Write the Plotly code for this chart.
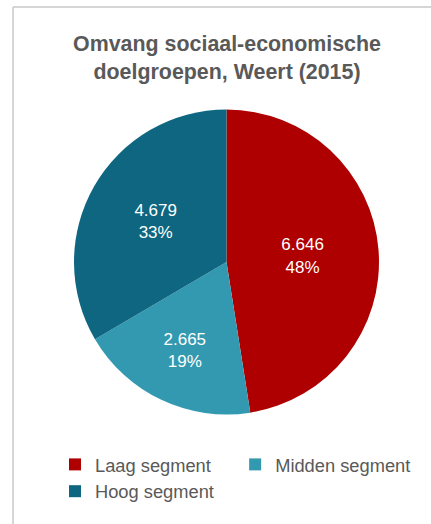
import plotly.graph_objects as go

# Omvang sociaal-economische doelgroepen, Weert (2015)
segments = ["Laag segment", "Midden segment", "Hoog segment"]
counts = [6646, 2665, 4679]
colors = ["#AE0000", "#3399B0", "#0E6680"]

W, H = 431, 524
grey = "#595959"

fig = go.Figure(
    go.Pie(
        labels=segments,
        values=counts,
        sort=False,
        direction="clockwise",
        rotation=0,
        marker=dict(colors=colors, line=dict(width=0)),
        texttemplate="%{value:,.0f}<br>%{percent:.0%}",
        textposition="inside",
        insidetextorientation="horizontal",
        textfont=dict(family="Liberation Sans, Arial, sans-serif", size=17, color="white"),
        hoverinfo="label+value+percent",
        domain=dict(x=[74 / W, 379 / W], y=[1 - 414.5 / H, 1 - 109.5 / H]),
    )
)

# thin frame along the top and left edges
fig.add_shape(type="line", xref="paper", yref="paper",
              x0=13 / W, x1=1, y0=1 - 7 / H, y1=1 - 7 / H,
              line=dict(color="#C8C8C8", width=1.5))
fig.add_shape(type="line", xref="paper", yref="paper",
              x0=13 / W, x1=13 / W, y0=0, y1=1 - 7 / H,
              line=dict(color="#C8C8C8", width=1.5))

fig.update_layout(
    width=W,
    height=H,
    margin=dict(l=0, r=0, t=0, b=0, autoexpand=False),
    paper_bgcolor="white",
    plot_bgcolor="white",
    separators=",.",
    font=dict(family="Liberation Sans, Arial, sans-serif", color=grey),
    title=dict(
        text="<b>Omvang sociaal-economische<br>doelgroepen, Weert (2015)</b>",
        x=227 / W,
        xanchor="center",
        xref="container",
        y=1 - 51 / H,
        yanchor="top",
        yref="container",
        font=dict(size=21.4, color=grey),
    ),
    legend=dict(
        orientation="h",
        x=55 / W,
        xanchor="left",
        y=1 - 446 / H,
        yanchor="top",
        font=dict(size=18.3, color=grey),
        traceorder="normal",
    ),
    showlegend=True,
)

fig.write_html("out.html")
